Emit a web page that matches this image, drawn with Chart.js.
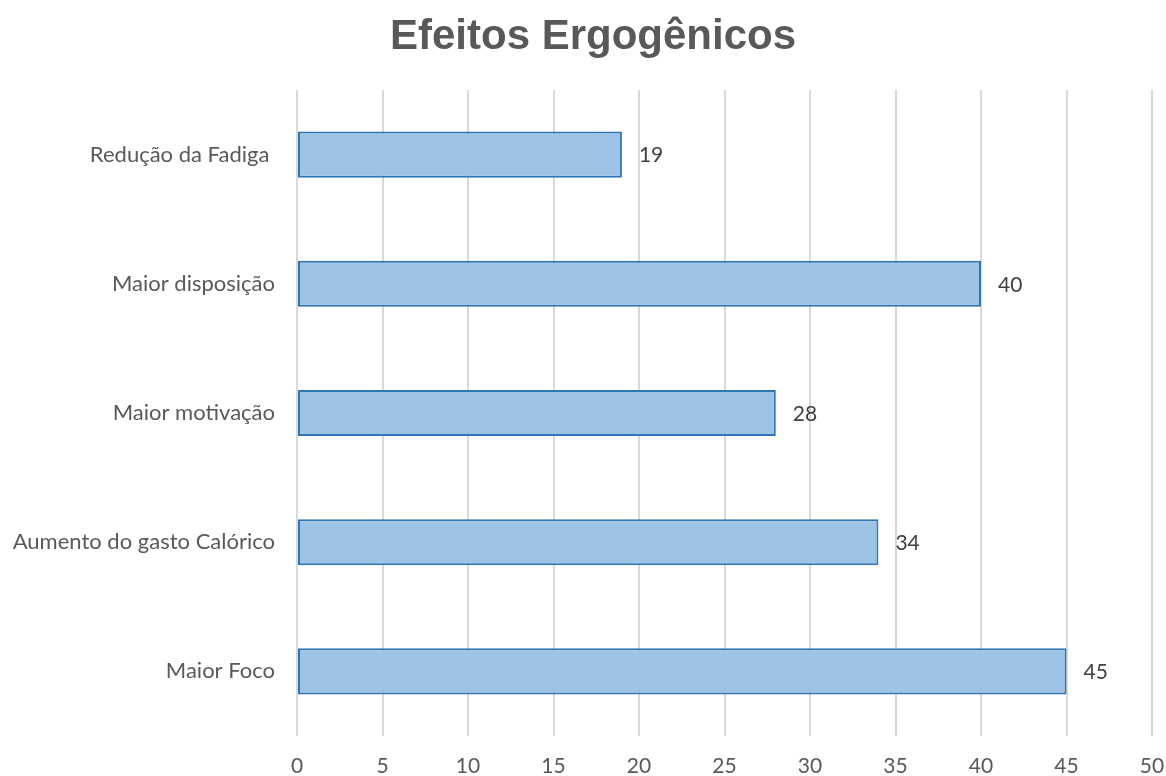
<!DOCTYPE html>
<html><head><meta charset="utf-8">
<script src="https://cdn.jsdelivr.net/npm/chart.js@4.4.1/dist/chart.umd.min.js"></script>
<style>html,body{margin:0;padding:0;background:#fff}#wrap{width:1166px;height:776px}</style>
</head><body><div id="wrap"><canvas id="c" width="1166" height="776"></canvas></div>
<script>
const title = "Efeitos Ergogênicos";
const categories = ["Redução da Fadiga ", "Maior disposição", "Maior motivação", "Aumento do gasto Calórico", "Maior Foco"];
const values = [19, 40, 28, 34, 45];
const xMin = 0, xMax = 50, xStep = 5;

const FONT = "Lato, 'Open Sans', sans-serif";

const titlePlugin = {
  id: 'customTitle',
  afterDraw(chart) {
    const ctx = chart.ctx;
    ctx.save();
    ctx.font = "bold 42px 'Liberation Sans', Arial, sans-serif";
    ctx.fillStyle = "#595959";
    ctx.textAlign = "center";
    ctx.textBaseline = "alphabetic";
    ctx.fillText(title, 593, 49);
    ctx.restore();
  }
};

const valueLabels = {
  id: 'valueLabels',
  afterDatasetsDraw(chart) {
    const ctx = chart.ctx;
    const meta = chart.getDatasetMeta(0);
    ctx.save();
    ctx.font = "21px " + FONT;
    ctx.fillStyle = "#404040";
    ctx.textAlign = "left";
    ctx.textBaseline = "middle";
    meta.data.forEach((bar, i) => {
      ctx.fillText(String(values[i]), bar.x + 17, bar.y + 1);
    });
    ctx.restore();
  }
};

new Chart(document.getElementById('c'), {
  type: 'bar',
  data: {
    labels: categories,
    datasets: [{
      data: values,
      backgroundColor: '#9DC3E6',
      borderColor: '#2E75B6',
      borderWidth: 2,
      borderSkipped: false,
      barPercentage: 0.357,
      categoryPercentage: 1
    }]
  },
  options: {
    indexAxis: 'y',
    responsive: false,
    animation: false,
    layout: { padding: { left: 0, right: 14, top: 90, bottom: 0 } },
    plugins: {
      legend: { display: false },
      tooltip: { enabled: false },
      title: { display: false }
    },
    scales: {
      x: {
        min: xMin, max: xMax,
        ticks: { stepSize: xStep, color: '#595959', font: { family: FONT, size: 21 }, padding: 18 },
        grid: { color: '#D9D9D9', lineWidth: 2, drawTicks: false },
        border: { display: false },
        afterFit(s) { s.height = 40; s.paddingLeft = 0; s.paddingRight = 0; }
      },
      y: {
        ticks: { color: '#595959', font: { family: FONT, size: 22 }, padding: 22 },
        grid: { display: false, drawTicks: false },
        border: { display: false },
        afterFit(s) { s.width = 297; s.paddingTop = 0; s.paddingBottom = 0; }
      }
    }
  },
  plugins: [valueLabels, titlePlugin]
});
</script></body></html>
